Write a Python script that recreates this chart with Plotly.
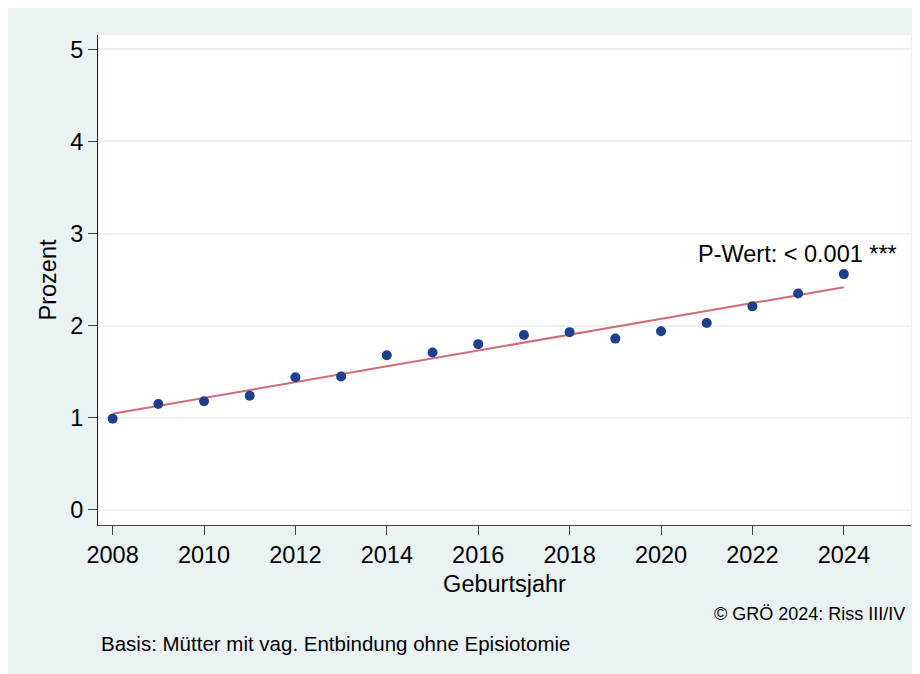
import numpy as np
import plotly.graph_objects as go

years = list(range(2008, 2025))
prozent = [0.99, 1.15, 1.18, 1.24, 1.44, 1.45, 1.68, 1.71, 1.80, 1.90, 1.93, 1.86, 1.94, 2.03, 2.21, 2.35, 2.56]
x_ticks = list(range(2008, 2025, 2))
y_ticks = [0, 1, 2, 3, 4, 5]
p_text = "P-Wert: < 0.001 ***"
x_title = "Geburtsjahr"
y_title = "Prozent"
source_text = "© GRÖ 2024: Riss III/IV"
basis_text = "Basis: Mütter mit vag. Entbindung ohne Episiotomie"

slope, intercept = np.polyfit(years, prozent, 1)
fit_x = [years[0], years[-1]]
fit_y = [intercept + slope * v for v in fit_x]

BG = "#EAF2F3"
FONT = "Liberation Sans, Arial, sans-serif"
OFF = 8  # page body margin
W, H = 912, 666
L, T = 98 - OFF, 35 - OFF
R = W - (911 - OFF)
B = H - (525 - OFF)
pw, ph = W - L - R, H - T - B

def px_x(p):
    return (p - OFF - L) / pw

def px_y(p):
    return (H - B - (p - OFF)) / ph

fig = go.Figure()
fig.add_trace(go.Scatter(x=fit_x, y=fit_y, mode="lines",
                         line=dict(color="#D06C77", width=2), showlegend=False,
                         hoverinfo="skip"))
fig.add_trace(go.Scatter(x=years, y=prozent, mode="markers",
                         marker=dict(color="#1F3F8C", size=10), showlegend=False))

fig.add_annotation(x=2025.2, y=2.78, xref="x", yref="y", text=p_text,
                   showarrow=False, xanchor="right", yanchor="middle",
                   font=dict(size=23.5, color="black", family=FONT))
fig.add_annotation(x=px_x(907), y=px_y(614), xref="paper", yref="paper", text=source_text,
                   showarrow=False, xanchor="right", yanchor="middle",
                   font=dict(size=18, color="black", family=FONT))
fig.add_annotation(x=px_x(99), y=px_y(643), xref="paper", yref="paper", text=basis_text,
                   showarrow=False, xanchor="left", yanchor="middle",
                   font=dict(size=20.5, color="black", family=FONT))

fig.update_layout(
    width=W, height=H,
    margin=dict(l=L, r=R, t=T, b=B),
    paper_bgcolor=BG, plot_bgcolor="white",
    font=dict(family=FONT, size=23.5, color="black"),
    xaxis=dict(range=[2007.68, 2025.47], tickvals=x_ticks, showgrid=False, zeroline=False,
               showline=True, linecolor="#444", linewidth=1, ticks="outside", ticklen=9,
               tickcolor="#444", tickfont=dict(size=23.5),
               title=dict(text=x_title, font=dict(size=23.5), standoff=8)),
    yaxis=dict(range=[-0.163, 5.155], tickvals=y_ticks, showgrid=True, gridcolor=BG,
               gridwidth=1.5, zeroline=False, showline=True, linecolor="#222", linewidth=1,
               ticks="outside", ticklen=9, tickcolor="#444", tickfont=dict(size=23.5),
               title=dict(text=y_title, font=dict(size=23.5), standoff=6)),
)

fig.write_html("out.html")
